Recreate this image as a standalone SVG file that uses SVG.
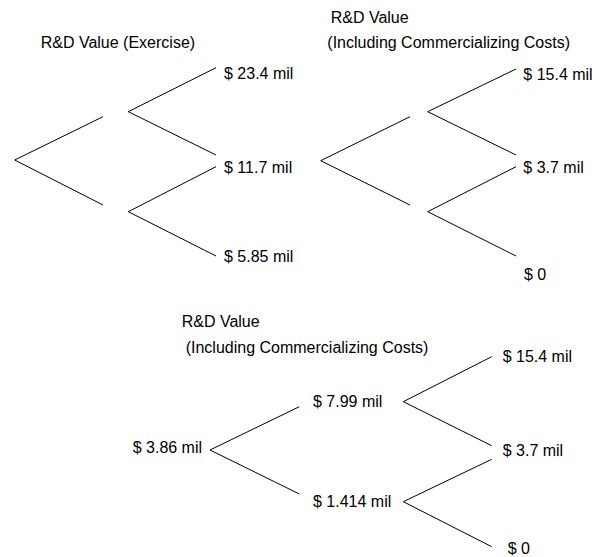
<svg xmlns="http://www.w3.org/2000/svg" width="601" height="557" viewBox="0 0 601 557">
<style>
text{font-family:"Liberation Sans",Arial,sans-serif;font-size:16px;fill:#000}
line{stroke:#000;stroke-width:1}
</style>
<rect width="601" height="557" fill="#fff"/>
<g id="connectors">
<line x1="14.7" y1="160" x2="103" y2="116.7"/>
<line x1="14.7" y1="160" x2="103" y2="205"/>
<line x1="128.3" y1="111.7" x2="216" y2="67.7"/>
<line x1="128.3" y1="111.7" x2="216" y2="155"/>
<line x1="128.3" y1="211.7" x2="216" y2="166.7"/>
<line x1="128.3" y1="211.7" x2="216" y2="256"/>
<line x1="320.7" y1="160.7" x2="410" y2="116.7"/>
<line x1="320.7" y1="160.7" x2="410" y2="205"/>
<line x1="427.7" y1="111.7" x2="516" y2="69"/>
<line x1="427.7" y1="111.7" x2="516" y2="155"/>
<line x1="427.7" y1="211.7" x2="516" y2="166.7"/>
<line x1="427.7" y1="211.7" x2="516" y2="256"/>
<line x1="210" y1="450" x2="299.3" y2="406.7"/>
<line x1="210" y1="450" x2="299.3" y2="494"/>
<line x1="403.3" y1="401.7" x2="491.7" y2="356.7"/>
<line x1="403.3" y1="401.7" x2="491.7" y2="445.7"/>
<line x1="403.3" y1="501.7" x2="491.7" y2="459.3"/>
<line x1="403.3" y1="501.7" x2="491.7" y2="546.7"/>
</g>
<g id="title1"><text x="40.7" y="48">R&amp;D Value (Exercise)</text></g>
<g id="t1-23"><text x="224" y="79">$ 23.4 mil</text></g>
<g id="t1-11"><text x="224" y="172.5">$ 11.7 mil</text></g>
<g id="t1-5"><text x="224" y="261.5">$ 5.85 mil</text></g>
<g id="title2"><text x="330.7" y="22.5">R&amp;D Value</text><text x="327.3" y="47.5">(Including Commercializing Costs)</text></g>
<g id="t2-15"><text x="523.3" y="79.5">$ 15.4 mil</text></g>
<g id="t2-3"><text x="523.3" y="173">$ 3.7 mil</text></g>
<g id="t2-0"><text x="524" y="280">$ 0</text></g>
<g id="title3"><text x="181.7" y="327">R&amp;D Value</text><text x="185.7" y="353">(Including Commercializing Costs)</text></g>
<g id="t3-root"><text x="132.7" y="453">$ 3.86 mil</text></g>
<g id="t3-799"><text x="313" y="407">$ 7.99 mil</text></g>
<g id="t3-1414"><text x="313" y="507">$ 1.414 mil</text></g>
<g id="t3-15"><text x="502.7" y="361.5">$ 15.4 mil</text></g>
<g id="t3-3"><text x="502.7" y="456">$ 3.7 mil</text></g>
<g id="t3-0"><text x="507.7" y="554">$ 0</text></g>
</svg>
